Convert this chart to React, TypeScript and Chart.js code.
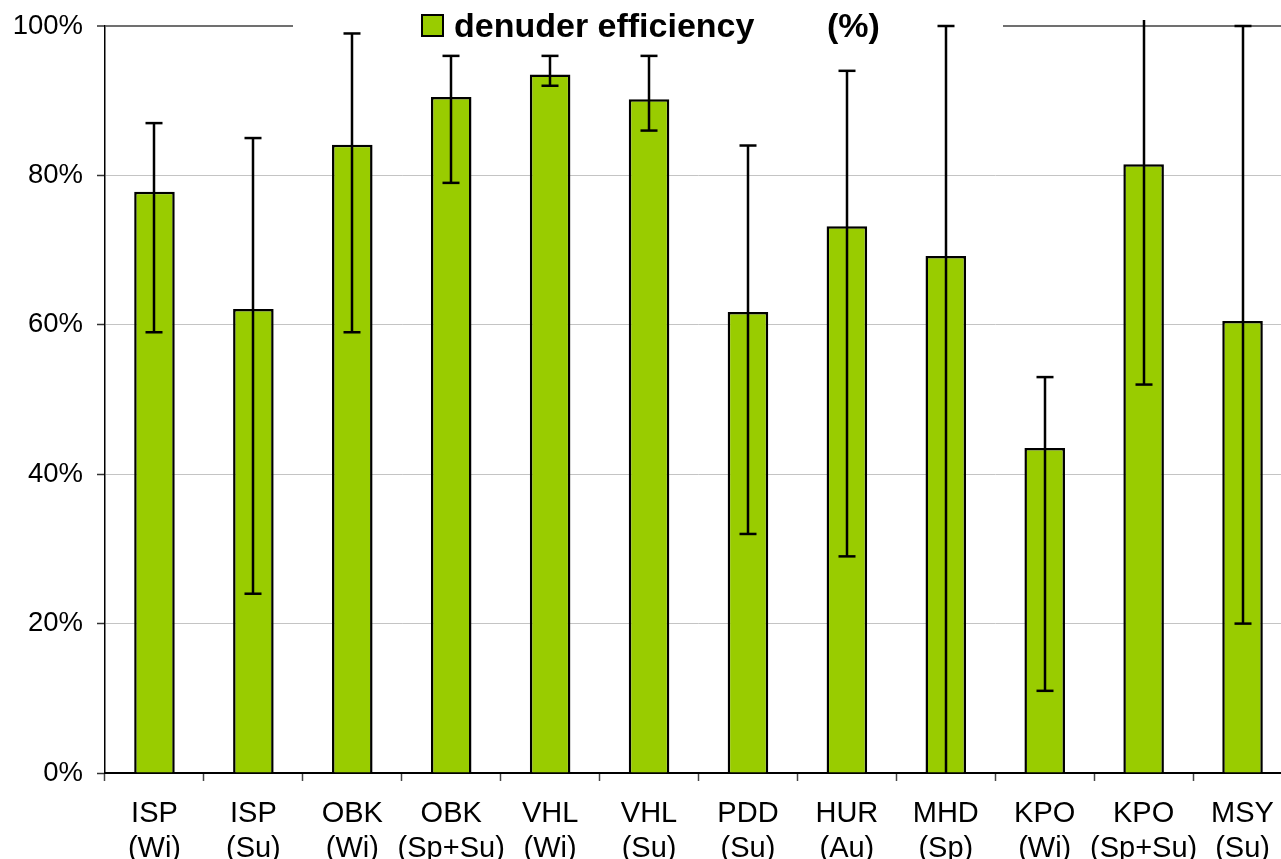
import React, { useEffect, useRef } from 'react';
import { Chart, registerables } from 'chart.js';
Chart.register(...registerables);

const categories = [
  ['ISP', '(Wi)'], ['ISP', '(Su)'], ['OBK', '(Wi)'], ['OBK', '(Sp+Su)'],
  ['VHL', '(Wi)'], ['VHL', '(Su)'], ['PDD', '(Su)'], ['HUR', '(Au)'],
  ['MHD', '(Sp)'], ['KPO', '(Wi)'], ['KPO', '(Sp+Su)'], ['MSY', '(Su)'],
];
const efficiency = [77.8, 62.1, 84.1, 90.5, 93.5, 90.2, 61.7, 73.2, 69.2, 43.5, 81.5, 60.5];
const errLow = [59, 24, 59, 79, 92, 86, 32, 29, 0, 11, 52, 20];
const errHigh = [87, 85, 99, 96, 96, 96, 84, 94, 100, 53, 100.8, 100];
const legendLabel = 'denuder efficiency';
const legendUnit = '(%)';

const FONT = '"Liberation Sans", Arial, sans-serif';

const legendPlugin = {
  id: 'customLegend',
  beforeDatasetsDraw(chart: any) {
    const ctx = chart.ctx;
    ctx.save();
    ctx.fillStyle = '#ffffff';
    ctx.fillRect(293, 0, 710, 50);
    ctx.fillStyle = '#99cc00';
    ctx.fillRect(422, 15, 21, 21);
    ctx.strokeStyle = '#000';
    ctx.lineWidth = 2;
    ctx.strokeRect(422, 15, 21, 21);
    ctx.fillStyle = '#000';
    ctx.font = `bold 34px ${FONT}`;
    ctx.textBaseline = 'alphabetic';
    ctx.textAlign = 'left';
    ctx.fillText(legendLabel, 454, 37);
    ctx.fillText(legendUnit, 827, 37);
    ctx.restore();
  },
};

const errorBarPlugin = {
  id: 'errorBars',
  afterDatasetsDraw(chart: any) {
    const ctx = chart.ctx;
    const meta = chart.getDatasetMeta(0);
    const y = chart.scales.y;
    ctx.save();
    ctx.strokeStyle = '#000';
    ctx.lineWidth = 2.5;
    meta.data.forEach((bar: any, i: number) => {
      const x = Math.round(bar.x);
      const yl = y.getPixelForValue(errLow[i]);
      const yh = y.getPixelForValue(errHigh[i]);
      ctx.beginPath();
      ctx.moveTo(x, yl);
      ctx.lineTo(x, yh);
      ctx.stroke();
      const cap = 8.5;
      if (errLow[i] > 0) {
        ctx.beginPath();
        ctx.moveTo(x - cap, yl);
        ctx.lineTo(x + cap, yl);
        ctx.stroke();
      }
      if (errHigh[i] <= 100) {
        ctx.beginPath();
        ctx.moveTo(x - cap, yh);
        ctx.lineTo(x + cap, yh);
        ctx.stroke();
      }
    });
    ctx.restore();
  },
};

export default function App() {
  const ref = useRef<HTMLCanvasElement>(null);
  useEffect(() => {
    const canvas = ref.current!;
    const chart = new Chart(canvas, {
      type: 'bar',
      data: {
        labels: categories,
        datasets: [{
          label: legendLabel + ' ' + legendUnit,
          data: efficiency,
          backgroundColor: '#99cc00',
          borderColor: '#000000',
          borderWidth: 2.5,
          barPercentage: 0.41,
          categoryPercentage: 1,
        }],
      },
      options: {
        responsive: false,
        animation: false,
        devicePixelRatio: 1,
        layout: { padding: { top: 26, left: 0, right: 0, bottom: 0 } },
        plugins: {
          legend: { display: false },
          tooltip: { enabled: false },
        },
        scales: {
          x: {
            grid: {
              offset: true,
              drawOnChartArea: false,
              drawTicks: true,
              tickLength: 8,
              tickColor: '#444',
              tickWidth: 1.5,
            },
            border: { color: '#000', width: 2 },
            ticks: {
              color: '#000',
              font: { family: FONT, size: 29, lineHeight: 1.2 },
              padding: 16,
              maxRotation: 0,
              autoSkip: false,
            },
            afterFit(scale: any) {
              scale.height = 86;
              scale.paddingLeft = 0;
              scale.paddingRight = 0;
            },
          },
          y: {
            min: 0,
            max: 100,
            ticks: {
              stepSize: 20,
              color: '#000',
              font: { family: FONT, size: 27.5 },
              padding: 14,
              callback: (v: any) => v + '%',
            },
            grid: {
              color: (c: any) => c.tick && c.tick.value === 100 ? '#707070' : (c.tick && c.tick.value === 0 ? 'rgba(0,0,0,0)' : '#c4c4c4'),
              lineWidth: (c: any) => c.tick && c.tick.value === 100 ? 2 : 1,
              tickLength: 8,
              tickColor: '#333',
              tickWidth: 1.5,
            },
            border: { color: '#000', width: 1.5 },
            afterFit(scale: any) {
              scale.width = 105;
              scale.paddingTop = 0;
              scale.paddingBottom = 0;
            },
          },
        },
      },
      plugins: [legendPlugin, errorBarPlugin],
    });
    return () => chart.destroy();
  }, []);
  return (
    <div style={{ position: 'fixed', left: 0, top: 0, width: 1281, height: 859, overflow: 'hidden', background: '#fff' }}>
      <canvas ref={ref} width={1292} height={859} style={{ width: 1292, height: 859, display: 'block' }} />
    </div>
  );
}
